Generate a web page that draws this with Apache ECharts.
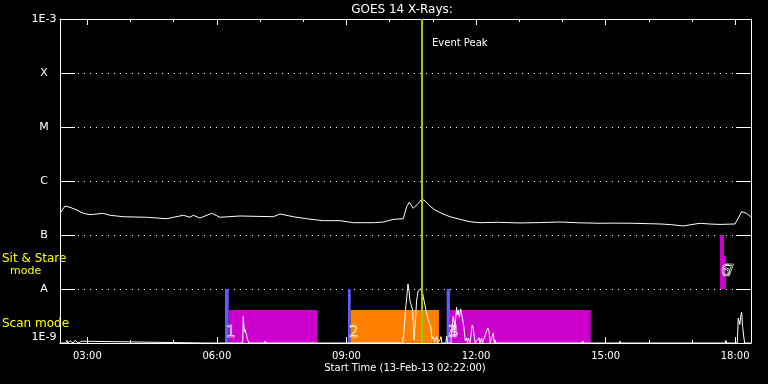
<!DOCTYPE html>
<html><head><meta charset="utf-8">
<script src="https://cdn.jsdelivr.net/npm/echarts@6/dist/echarts.min.js"></script>
<style>html,body{margin:0;padding:0;background:#000}#c{width:768px;height:384px}</style>
</head><body><div id="c"></div>
<script>
// ---- data (time in decimal hours of 13-Feb-13, flux in W/m^2) ----
const startHour = 2 + 22/60;
const endHour = startHour + 16;
const majorHours = [3, 6, 9, 12, 15, 18];
const minorHours = [4, 5, 7, 8, 10, 11, 13, 14, 16, 17];
const yTickNames = {'-3':'1E-3','-4':'X','-5':'M','-6':'C','-7':'B','-8':'A','-9':'1E-9'};

const longChannel = [
 [2.383,2.63e-7],[2.482,3.44e-7],[2.598,3.26e-7],[2.753,2.90e-7],[2.906,2.52e-7],[3.061,2.38e-7],
 [3.369,2.52e-7],[3.524,2.32e-7],[3.832,2.18e-7],[4.374,2.13e-7],[4.837,2.00e-7],[5.221,2.32e-7],
 [5.377,2.13e-7],[5.453,2.32e-7],[5.608,2.06e-7],[5.879,2.52e-7],[6.071,2.13e-7],[6.534,2.25e-7],
 [7.305,2.18e-7],[7.461,2.45e-7],[7.768,2.18e-7],[8.079,2.00e-7],[8.463,1.84e-7],[8.850,1.84e-7],
 [9.158,1.69e-7],[9.621,1.69e-7],[9.852,1.74e-7],[10.084,1.95e-7],[10.315,2.00e-7],[10.394,3.34e-7],
 [10.454,4.04e-7],[10.547,3.12e-7],[10.662,3.86e-7],[10.741,4.58e-7],[10.817,4.32e-7],[10.933,3.44e-7],
 [11.049,2.90e-7],[11.204,2.52e-7],[11.396,2.18e-7],[11.628,1.95e-7],[11.860,1.76e-7],[12.091,1.69e-7],
 [12.5,1.72e-7],[13.017,1.67e-7],[13.5,1.70e-7],[13.943,1.74e-7],[14.4,1.68e-7],[14.870,1.65e-7],
 [15.2,1.66e-7],[15.634,1.65e-7],[16.0,1.62e-7],[16.259,1.60e-7],[16.5,1.56e-7],[16.798,1.47e-7],
 [17.185,1.65e-7],[17.4,1.60e-7],[17.648,1.57e-7],[17.995,1.60e-7],[18.071,2.04e-7],[18.150,2.70e-7],
 [18.266,2.52e-7],[18.359,2.18e-7]
];

const shortChannel = [
 [2.37,1e-9],[2.50,1e-9],[2.529,1.12e-9],[2.55,1e-9],[2.60,1.1e-9],[2.645,1.15e-9],[2.67,1e-9],
 [2.72,1.12e-9],[2.76,1.15e-9],[2.78,1e-9],[2.876,1.08e-9],[2.90,1e-9],
 [5.69,1e-9],[5.708,1.06e-9],[5.725,1e-9],
 [6.595,1e-9],[6.611,3.1e-9],[6.635,1.6e-9],[6.650,1.8e-9],[6.685,1.4e-9],[6.720,1.1e-9],[6.74,1e-9],
 [7.10,1e-9],[7.113,1.09e-9],[7.13,1e-9],
 [10.30,1e-9],[10.331,1.6e-9],[10.378,5e-9],[10.424,1.24e-8],[10.447,9.5e-9],[10.470,6e-9],
 [10.533,4.08e-9],[10.563,1.14e-9],[10.59,2.2e-9],[10.625,6.25e-9],[10.66,9.2e-9],[10.702,9.58e-9],
 [10.741,1.04e-8],[10.778,7.2e-9],[10.840,4.08e-9],[10.894,2.67e-9],[10.950,2.0e-9],[10.98,1.2e-9],
 [11.010,1.31e-9],[11.05,1.05e-9],[11.088,1.31e-9],[11.12,1e-9],[11.165,1.14e-9],[11.188,1.31e-9],[11.21,1e-9],
 [11.30,1e-9],[11.320,1.35e-9],[11.34,1e-9],
 [11.42,1e-9],[11.436,1.74e-9],[11.473,3.1e-9],[11.512,2.0e-9],[11.551,4.6e-9],[11.57,3.3e-9],
 [11.589,4.08e-9],[11.615,3.0e-9],[11.644,4.3e-9],[11.691,2.67e-9],[11.721,1.9e-9],[11.75,1.1e-9],
 [11.783,1.24e-9],[11.80,1e-9],[11.820,1.24e-9],[11.86,1e-9],[11.913,2.15e-9],[11.936,1.9e-9],
 [11.959,1.31e-9],[11.98,1e-9],[12.07,1.25e-9],[12.09,1e-9],[12.130,1.24e-9],[12.15,1e-9],
 [12.269,1.9e-9],[12.299,1.7e-9],[12.33,1e-9],[12.399,1.53e-9],[12.42,1e-9],[12.438,1.14e-9],[12.46,1e-9],
 [14.45,1e-9],[14.469,1.09e-9],[14.49,1e-9],
 [15.31,1e-9],[15.333,1.09e-9],[15.35,1e-9],
 [17.77,1e-9],[17.787,1.12e-9],[17.80,1e-9],
 [18.05,1e-9],[18.071,2.9e-9],[18.094,3.0e-9],[18.110,2.2e-9],[18.126,3.07e-9],[18.150,3.7e-9],
 [18.173,2.0e-9],[18.203,1.24e-9],[18.22,1e-9],[18.36,1e-9]
];

const eventPeakHour = 10.748;

const modeStart = [6.187, 6.273, 9.035, 9.097, 11.320, 11.396, 17.648, 17.741];
const modeEnd   = [6.273, 8.333, 9.097, 11.142, 11.396, 14.654, 17.741, 17.787];
const modeLow   = [1e-9, 1e-9, 1e-9, 1e-9, 1e-9, 1e-9, 1e-8, 1e-8];
const modeHigh  = [1e-8, 4.08e-9, 1e-8, 4.08e-9, 1e-8, 4.08e-9, 1e-7, 4.08e-8];
const modeColor = ['#5c5cff','#cc00cc','#5c5cff','#ff8000','#5c5cff','#cc00cc','#cc00cc','#cc00cc'];

const obsLabelText  = ['1', '2', '3', '4', '6', '7'];
const obsLabelHour  = [6.187, 9.035, 11.320, 11.35, 17.648, 17.741];
const obsLabelValue = [1.53e-9, 1.53e-9, 1.53e-9, 1.53e-9, 2.09e-8, 2.09e-8];

// ---- chart ----
const FONT = 'DejaVu Sans';
const chart = echarts.init(document.getElementById('c'), null, {renderer:'canvas'});
const fmtHour = v => (v < 10 ? '0' : '') + Math.round(v) + ':00';

function xAxisDef(pos, ticks, len, showLine, showLabel) {
  return {
    type:'value', position:pos, min:startHour, max:endHour,
    axisLine:{show:showLine, onZero:false, lineStyle:{color:'#fff', width:1}},
    axisTick:{show:true, inside:true, length:len, customValues:ticks, lineStyle:{color:'#fff', width:1}},
    axisLabel:{show:showLabel, customValues:ticks, formatter:fmtHour, color:'#fff',
               fontFamily:FONT, fontSize:10, margin:8},
    splitLine:{show:false}
  };
}
function yAxisDef(pos, showLabel, showSplit) {
  return {
    type:'log', logBase:10, min:1e-9, max:1e-3, interval:1, position:pos,
    axisLine:{show:true, onZero:false, lineStyle:{color:'#fff', width:1}},
    axisTick:{show:true, inside:true, length:15, lineStyle:{color:'#fff', width:1}},
    axisLabel:{show:showLabel, color:'#fff', fontFamily:FONT, fontSize:11, align:'center', margin:16,
               verticalAlignMinLabel:'bottom', verticalAlignMaxLabel:'top',
               formatter:v => yTickNames[String(Math.round(Math.log10(v)))] || ''},
    splitLine:{show:showSplit, lineStyle:{color:'#fff', type:[1,5], width:1}}
  };
}

const modeData = modeStart.map((s,i) => [s, modeEnd[i], modeLow[i], modeHigh[i], i]);
const labelData = obsLabelText.map((t,i) => [obsLabelHour[i], obsLabelValue[i], i]);

chart.setOption({
  backgroundColor:'#000',
  animation:false,
  grid:{left:60, right:17, top:19, bottom:41, containLabel:false},
  xAxis:[
    xAxisDef('bottom', majorHours, 6, true, true),
    xAxisDef('bottom', minorHours, 3, false, false),
    xAxisDef('top', majorHours, 6, true, false),
    xAxisDef('top', minorHours, 3, false, false)
  ],
  yAxis:[ yAxisDef('left', true, true), yAxisDef('right', false, false) ],
  graphic:[
    {type:'text', x:402, y:10, style:{text:'GOES 14 X-Rays:', fill:'#fff', font:'12px '+FONT, align:'center', verticalAlign:'middle'}},
    {type:'text', x:432, y:43, style:{text:'Event Peak', fill:'#fff', font:'10px '+FONT, align:'left', verticalAlign:'middle'}},
    {type:'text', x:2, y:259, style:{text:'Sit & Stare', fill:'#ffff00', font:'12px '+FONT, align:'left', verticalAlign:'middle'}},
    {type:'text', x:10, y:271, style:{text:'mode', fill:'#ffff00', font:'11px '+FONT, align:'left', verticalAlign:'middle'}},
    {type:'text', x:2, y:324, style:{text:'Scan mode', fill:'#ffff00', font:'12px '+FONT, align:'left', verticalAlign:'middle'}},
    {type:'text', x:405, y:368, style:{text:'Start Time (13-Feb-13 02:22:00)', fill:'#fff', font:'10px '+FONT, align:'center', verticalAlign:'middle'}}
  ],
  series:[
    {
      type:'custom', xAxisIndex:0, yAxisIndex:0, z:1, silent:true,
      encode:{x:[0,1], y:[2,3]},
      data:modeData,
      renderItem:(params, api) => {
        const p0 = api.coord([api.value(0), api.value(3)]);
        const p1 = api.coord([api.value(1), api.value(2)]);
        return {type:'rect', shape:{x:p0[0], y:p0[1], width:p1[0]-p0[0], height:p1[1]-p0[1]},
                style:{fill:modeColor[api.value(4)]}};
      }
    },
    {
      type:'custom', xAxisIndex:0, yAxisIndex:0, z:3, silent:true,
      encode:{x:0, y:1},
      data:labelData,
      renderItem:(params, api) => {
        const p = api.coord([api.value(0), api.value(1)]);
        return {type:'text', x:p[0]+1, y:p[1],
                style:{text:obsLabelText[api.value(2)], fill:'rgba(0,0,0,0)', stroke:'#fff', lineWidth:0.6,
                       font:'15px '+FONT, align:'left', verticalAlign:'middle'}};
      }
    },
    {
      type:'line', xAxisIndex:0, yAxisIndex:0, z:2, data:longChannel, showSymbol:false, symbol:'none',
      smooth:false, lineStyle:{color:'#fff', width:1}, silent:true
    },
    {
      type:'line', xAxisIndex:0, yAxisIndex:0, z:4, data:shortChannel, showSymbol:false, symbol:'none',
      smooth:false, lineStyle:{color:'#fff', width:1}, silent:true,
      markLine:{silent:true, symbol:['none','none'], label:{show:false},
        lineStyle:{color:'#9acd00', width:2, type:'solid'},
        data:[{xAxis:eventPeakHour}]}
    }
  ]
});
</script></body></html>
